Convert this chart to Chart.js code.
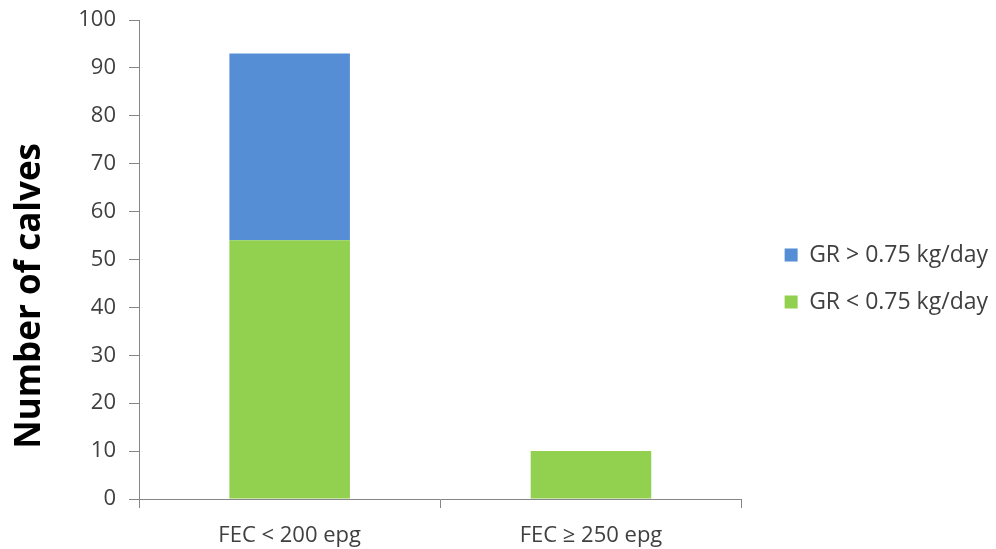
<!DOCTYPE html>
<html>
<head>
<meta charset="utf-8">
<script src="https://cdn.jsdelivr.net/npm/chart.js@4/dist/chart.umd.min.js"></script>
<style>
  html, body { margin: 0; padding: 0; background: #ffffff; }
  #wrap { width: 996px; height: 549px; }
</style>
</head>
<body>
<div id="wrap"><canvas id="chart" width="996" height="549"></canvas></div>
<script>
// Calves grouped by faecal egg count, split by growth rate
const categories = ['FEC < 200 epg', 'FEC \u2265 250 epg'];
const lowGrowth = [54, 10];   // GR < 0.75 kg/day
const highGrowth = [39, 0];   // GR > 0.75 kg/day
const seriesNames = ['GR < 0.75 kg/day', 'GR > 0.75 kg/day'];
const yTicks = [0, 10, 20, 30, 40, 50, 60, 70, 80, 90, 100];
const yTitle = 'Number of calves';

const axisColor = '#868686';
const textColor = '#404040';
const fontFamily = '"Open Sans", "DejaVu Sans", sans-serif';

const noPad = (s) => { s.paddingTop = 0; s.paddingBottom = 0; s.paddingLeft = 0; s.paddingRight = 0; };

new Chart(document.getElementById('chart'), {
  type: 'bar',
  data: {
    labels: categories,
    datasets: [
      { label: seriesNames[0], data: lowGrowth, backgroundColor: '#92D050', borderWidth: 0 },
      { label: seriesNames[1], data: highGrowth, backgroundColor: '#558ED5', borderWidth: 0 }
    ]
  },
  options: {
    responsive: false,
    animation: false,
    devicePixelRatio: 1,
    layout: { padding: { top: 8, left: 6, right: -2, bottom: 0 } },
    datasets: { bar: { categoryPercentage: 1.0, barPercentage: 0.4 } },
    plugins: {
      tooltip: { enabled: false },
      legend: {
        position: 'right',
        reverse: true,
        maxWidth: 300,
        labels: {
          boxWidth: 13,
          boxHeight: 13,
          padding: 24,
          color: textColor,
          font: { family: fontFamily, size: 23 }
        }
      }
    },
    scales: {
      x: {
        stacked: true,
        offset: true,
        afterFit: (s) => { s.height = 50; noPad(s); },
        grid: { display: true, drawOnChartArea: false, offset: true, tickLength: 9, color: axisColor, tickColor: axisColor },
        border: { display: true, color: axisColor, width: 1 },
        ticks: { color: textColor, padding: 15, font: { family: fontFamily, size: 22 } }
      },
      y: {
        stacked: true,
        min: 0,
        max: 100,
        afterFit: (s) => { s.width = 133; noPad(s); },
        afterBuildTicks: (s) => { s.ticks = yTicks.map(v => ({ value: v })); },
        grid: { display: true, drawOnChartArea: false, tickLength: 10, color: axisColor, tickColor: axisColor },
        border: { display: true, color: axisColor, width: 1 },
        ticks: { color: textColor, padding: 13, font: { family: fontFamily, size: 22 } },
        title: {
          display: true,
          // trailing spaces lower the centred title along the axis
          text: yTitle + '        ',
          color: '#000000',
          padding: { top: 3, bottom: 3 },
          font: { family: fontFamily, size: 35, weight: 'bold' }
        }
      },
      // empty band above the plot
      topGap: {
        type: 'category',
        position: 'top',
        display: true,
        afterFit: (s) => { s.height = 12; noPad(s); },
        grid: { display: false },
        border: { display: false },
        ticks: { display: false }
      },
      // spacer between the plot and the legend
      gap: {
        type: 'linear',
        position: 'right',
        display: true,
        afterFit: (s) => { s.width = 19; noPad(s); },
        grid: { display: false },
        border: { display: false },
        ticks: { display: false }
      }
    }
  }
});
</script>
</body>
</html>
